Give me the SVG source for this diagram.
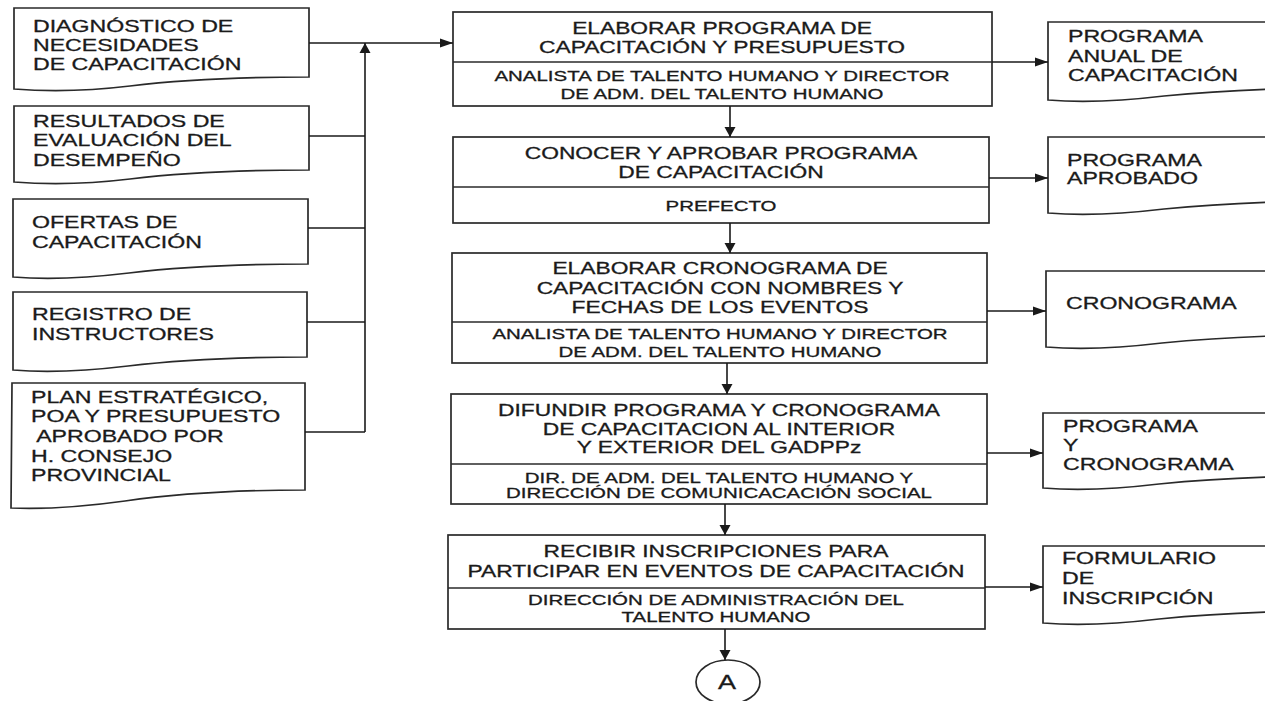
<svg xmlns="http://www.w3.org/2000/svg" width="1265" height="701" viewBox="0 0 1265 701">
  <style>
    .shape { fill: #fff; stroke: #2a2a2a; stroke-width: 1.7; }
    .div { stroke: #2a2a2a; stroke-width: 1.4; fill: none; }
    .wire { stroke: #1a1a1a; stroke-width: 1.6; fill: none; }
    text { font-family: "Liberation Sans", Arial, sans-serif; fill: #1a1a1a; stroke: #1a1a1a; stroke-width: 0.3; }
    .doc { font-size: 17px; }
    .main { font-size: 16.5px; text-anchor: middle; }
    .sub { font-size: 14.5px; text-anchor: middle; }
    .conn { font-size: 20px; text-anchor: middle; }
  </style>
  <defs>
    <marker id="ah" markerUnits="userSpaceOnUse" markerWidth="14" markerHeight="10" refX="13" refY="5" orient="auto">
      <path d="M0,0.5 L13,5 L0,9.5 Z" fill="#1a1a1a"/>
    </marker>
    <marker id="av" markerUnits="userSpaceOnUse" markerWidth="11" markerHeight="12" refX="10" refY="6" orient="auto">
      <path d="M0,0.5 L10,6 L0,11.5 Z" fill="#1a1a1a"/>
    </marker>
  </defs>
  <rect width="1265" height="701" fill="#fff"/>

  <!-- input documents (left column) -->
  <g id="in-diagnostico">
    <path class="shape" d="M14,8 H309 V77 C250,77 180,80 130,86 C80,92 40,91 14,89 Z"/>
    <text class="doc" transform="translate(33,32) scale(1.36,1)"><tspan x="0" y="0">DIAGNÓSTICO DE</tspan><tspan x="0" y="19">NECESIDADES</tspan><tspan x="0" y="38">DE CAPACITACIÓN</tspan></text>
  </g>
  <g id="in-evaluacion">
    <path class="shape" d="M14,106 H309 V170 C250,170 180,173 130,179 C80,185 40,184 14,182 Z"/>
    <text class="doc" transform="translate(33,127) scale(1.36,1)"><tspan x="0" y="0">RESULTADOS DE</tspan><tspan x="0" y="19.5">EVALUACIÓN DEL</tspan><tspan x="0" y="39">DESEMPEÑO</tspan></text>
  </g>
  <g id="in-ofertas">
    <path class="shape" d="M13,199 H308 V264 C249,264 179,267 129,273 C79,279 39,279 13,277 Z"/>
    <text class="doc" transform="translate(32,228) scale(1.36,1)"><tspan x="0" y="0">OFERTAS DE</tspan><tspan x="0" y="20">CAPACITACIÓN</tspan></text>
  </g>
  <g id="in-registro">
    <path class="shape" d="M13,292 H307 V357 C248,357 178,360 128,366 C78,372 38,372 13,370 Z"/>
    <text class="doc" transform="translate(32,320) scale(1.36,1)"><tspan x="0" y="0">REGISTRO DE</tspan><tspan x="0" y="20">INSTRUCTORES</tspan></text>
  </g>
  <g id="in-plan">
    <path class="shape" d="M12,383 H305 V490 C245,490 175,494 125,501 C75,508 37,509 11,508 Z"/>
    <text class="doc" xml:space="preserve" transform="translate(31,403) scale(1.36,1)"><tspan x="0" y="0">PLAN ESTRATÉGICO,</tspan><tspan x="0" y="19.5">POA Y PRESUPUESTO</tspan><tspan x="0" y="39"> APROBADO POR</tspan><tspan x="0" y="59">H. CONSEJO</tspan><tspan x="0" y="78">PROVINCIAL</tspan></text>
  </g>

  <!-- process steps -->
  <g id="p1-elaborar-programa">
    <rect class="shape" x="453" y="12" width="539" height="94"/>
    <line class="div" x1="453" y1="62" x2="992" y2="62"/>
    <text class="main" transform="translate(722,34) scale(1.38,1)"><tspan x="0" y="0">ELABORAR PROGRAMA DE</tspan><tspan x="0" y="19">CAPACITACIÓN Y PRESUPUESTO</tspan></text>
    <text class="sub" transform="translate(722,81) scale(1.41,1)"><tspan x="0" y="0">ANALISTA DE TALENTO HUMANO Y DIRECTOR</tspan><tspan x="0" y="18">DE ADM. DEL TALENTO HUMANO</tspan></text>
  </g>
  <g id="p2-aprobar-programa">
    <rect class="shape" x="453" y="137" width="536" height="86"/>
    <line class="div" x1="453" y1="187" x2="989" y2="187"/>
    <text class="main" transform="translate(721,159) scale(1.38,1)"><tspan x="0" y="0">CONOCER Y APROBAR PROGRAMA</tspan><tspan x="0" y="19">DE CAPACITACIÓN</tspan></text>
    <text class="sub" transform="translate(721,211) scale(1.41,1)">PREFECTO</text>
  </g>
  <g id="p3-cronograma">
    <rect class="shape" x="452" y="253" width="535" height="110"/>
    <line class="div" x1="452" y1="322" x2="987" y2="322"/>
    <text class="main" transform="translate(720,274) scale(1.38,1)"><tspan x="0" y="0">ELABORAR CRONOGRAMA DE</tspan><tspan x="0" y="20">CAPACITACIÓN CON NOMBRES Y</tspan><tspan x="0" y="39">FECHAS DE LOS EVENTOS</tspan></text>
    <text class="sub" transform="translate(720,339) scale(1.41,1)"><tspan x="0" y="0">ANALISTA DE TALENTO HUMANO Y DIRECTOR</tspan><tspan x="0" y="18">DE ADM. DEL TALENTO HUMANO</tspan></text>
  </g>
  <g id="p4-difundir">
    <rect class="shape" x="451" y="394" width="536" height="110"/>
    <line class="div" x1="451" y1="464" x2="987" y2="464"/>
    <text class="main" transform="translate(719,416) scale(1.38,1)"><tspan x="0" y="0">DIFUNDIR PROGRAMA Y CRONOGRAMA</tspan><tspan x="0" y="19">DE CAPACITACION AL INTERIOR</tspan><tspan x="0" y="37">Y EXTERIOR DEL GADPPz</tspan></text>
    <text class="sub" transform="translate(719,483) scale(1.41,1)"><tspan x="0" y="0">DIR. DE ADM. DEL TALENTO HUMANO Y</tspan><tspan x="0" y="15">DIRECCIÓN DE COMUNICACACIÓN SOCIAL</tspan></text>
  </g>
  <g id="p5-inscripciones">
    <rect class="shape" x="448" y="535" width="537" height="94"/>
    <line class="div" x1="448" y1="588" x2="985" y2="588"/>
    <text class="main" transform="translate(716,557) scale(1.38,1)"><tspan x="0" y="0">RECIBIR INSCRIPCIONES PARA</tspan><tspan x="0" y="20">PARTICIPAR EN EVENTOS DE CAPACITACIÓN</tspan></text>
    <text class="sub" transform="translate(716,605) scale(1.41,1)"><tspan x="0" y="0">DIRECCIÓN DE ADMINISTRACIÓN DEL</tspan><tspan x="0" y="17">TALENTO HUMANO</tspan></text>
  </g>

  <!-- off-page connector -->
  <g id="connector-a">
    <ellipse class="shape" cx="728" cy="682" rx="32" ry="22"/>
    <text class="conn" transform="translate(727,689) scale(1.35,1)">A</text>
  </g>

  <!-- output documents (right column) -->
  <g id="out-programa-anual">
    <path class="shape" d="M1048,22 H1343 V88 C1284,88 1214,91 1164,96 C1114,102 1074,102 1048,100 Z"/>
    <text class="doc" transform="translate(1068,42) scale(1.36,1)"><tspan x="0" y="0">PROGRAMA</tspan><tspan x="0" y="20">ANUAL DE</tspan><tspan x="0" y="39">CAPACITACIÓN</tspan></text>
  </g>
  <g id="out-programa-aprobado">
    <path class="shape" d="M1048,137 H1343 V201 C1284,201 1214,204 1164,209 C1114,215 1074,215 1048,213 Z"/>
    <text class="doc" transform="translate(1067,166) scale(1.36,1)"><tspan x="0" y="0">PROGRAMA</tspan><tspan x="0" y="18.5">APROBADO</tspan></text>
  </g>
  <g id="out-cronograma">
    <path class="shape" d="M1046,271 H1341 V335 C1282,335 1212,338 1162,343 C1112,349 1072,349 1046,347 Z"/>
    <text class="doc" transform="translate(1066,309) scale(1.36,1)">CRONOGRAMA</text>
  </g>
  <g id="out-programa-cronograma">
    <path class="shape" d="M1043,413 H1338 V476 C1279,476 1209,479 1159,484 C1109,490 1069,490 1043,488 Z"/>
    <text class="doc" transform="translate(1063,432) scale(1.36,1)"><tspan x="0" y="0">PROGRAMA</tspan><tspan x="0" y="19">Y</tspan><tspan x="0" y="38">CRONOGRAMA</tspan></text>
  </g>
  <g id="out-formulario">
    <path class="shape" d="M1043,546 H1338 V611 C1279,611 1209,614 1159,619 C1109,625 1069,625 1043,623 Z"/>
    <text class="doc" transform="translate(1062,564) scale(1.36,1)"><tspan x="0" y="0">FORMULARIO</tspan><tspan x="0" y="20">DE</tspan><tspan x="0" y="40">INSCRIPCIÓN</tspan></text>
  </g>

  <!-- connectors -->
  <g id="connectors">
    <!-- inputs collected on a vertical bus -->
    <line class="wire" x1="309" y1="136" x2="365" y2="136"/>
    <line class="wire" x1="308" y1="228" x2="365" y2="228"/>
    <line class="wire" x1="307" y1="322" x2="365" y2="322"/>
    <line class="wire" x1="305" y1="432" x2="365" y2="432"/>
    <line class="wire" x1="365" y1="432" x2="365" y2="43" marker-end="url(#av)"/>
    <line class="wire" x1="309" y1="43" x2="453" y2="43" marker-end="url(#ah)"/>
    <!-- main flow -->
    <line class="wire" x1="730" y1="106" x2="730" y2="137" marker-end="url(#av)"/>
    <line class="wire" x1="730" y1="223" x2="730" y2="253" marker-end="url(#av)"/>
    <line class="wire" x1="727" y1="363" x2="727" y2="394" marker-end="url(#av)"/>
    <line class="wire" x1="725" y1="504" x2="725" y2="535" marker-end="url(#av)"/>
    <line class="wire" x1="725" y1="629" x2="725" y2="660" marker-end="url(#av)"/>
    <!-- outputs -->
    <line class="wire" x1="992" y1="62" x2="1048" y2="62" marker-end="url(#ah)"/>
    <line class="wire" x1="989" y1="178" x2="1048" y2="178" marker-end="url(#ah)"/>
    <line class="wire" x1="987" y1="311" x2="1046" y2="311" marker-end="url(#ah)"/>
    <line class="wire" x1="987" y1="453" x2="1043" y2="453" marker-end="url(#ah)"/>
    <line class="wire" x1="985" y1="587" x2="1043" y2="587" marker-end="url(#ah)"/>
  </g>
</svg>
